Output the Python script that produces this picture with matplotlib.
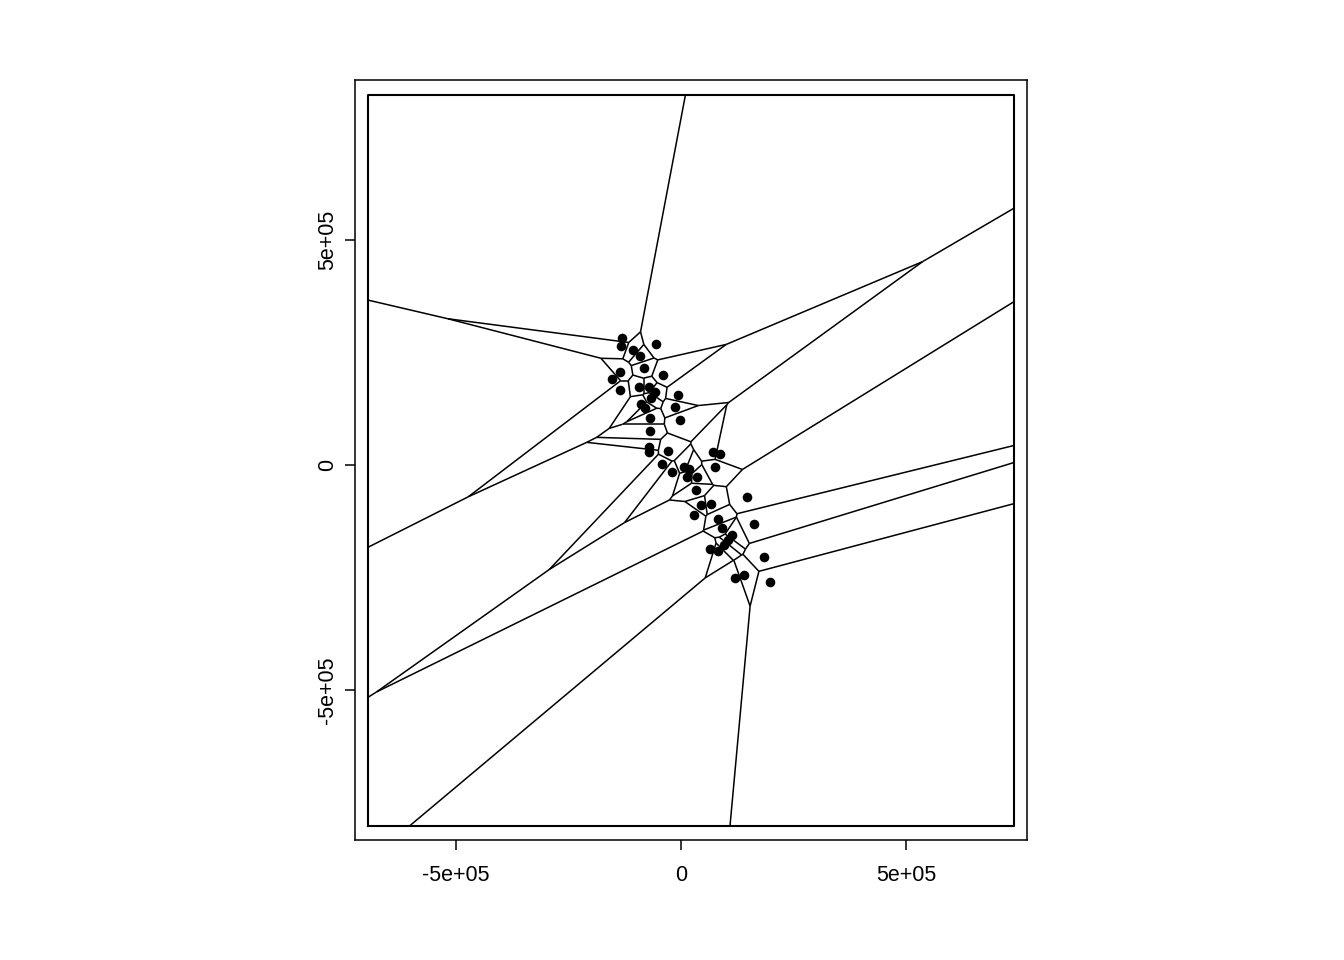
import numpy as np
import matplotlib
matplotlib.use("Agg")
import matplotlib.pyplot as plt
import matplotlib.tri as mtri

plt.rcParams["font.family"] = ["Liberation Sans", "DejaVu Sans"]

# point positions (pixel coords), converted to data units below
px = [621.7, 620.65, 633, 640, 656, 644, 663, 620, 612, 620, 638.5, 648.5, 655,
      641, 645, 651, 677.5, 675, 680, 649.5, 649.5, 649, 648.5, 668.3, 661.7,
      671.7, 684, 689, 687, 696.7, 696, 713, 720, 715, 746.7, 700.5, 711,
      693.5, 718, 721.7, 753.5, 731.7, 728, 724, 718, 710, 763.5, 735, 744.3,
      770]
py = [337.5, 345.5, 350, 356, 344, 368, 375, 372, 379, 389.5, 387, 387, 392,
      403.5, 407.5, 398, 395, 406.5, 420, 417.5, 431, 447, 451.5, 451, 464,
      471.7, 466.5, 468.5, 476.5, 477, 490, 452, 453.5, 467, 496.7, 505, 503.5,
      515, 519, 528.3, 524.3, 535, 540, 545, 551, 548.5, 557, 578.3, 575,
      581.5]

scale = 5e5 / 225.0
x = (np.array(px) - 681) * scale
y = (465 - np.array(py)) * scale

# bounding rectangle of the tessellation
rw = [(368 - 681) * scale, (1014 - 681) * scale,
      (465 - 826) * scale, (465 - 95) * scale]


def clip(p0, p1, box):
    # Liang-Barsky
    x0, y0 = p0
    dx, dy = p1[0] - x0, p1[1] - y0
    t0, t1 = 0.0, 1.0
    for p, q in ((-dx, x0 - box[0]), (dx, box[1] - x0),
                 (-dy, y0 - box[2]), (dy, box[3] - y0)):
        if p == 0:
            if q < 0:
                return None
        else:
            r = q / p
            if p < 0:
                t0 = max(t0, r)
            else:
                t1 = min(t1, r)
    if t0 > t1:
        return None
    return (x0 + t0 * dx, x0 + t1 * dx), (y0 + t0 * dy, y0 + t1 * dy)


tri = mtri.Triangulation(x, y)
T = tri.triangles
nb = tri.neighbors

# circumcentres
ax_, ay_ = x[T[:, 0]], y[T[:, 0]]
bx_, by_ = x[T[:, 1]], y[T[:, 1]]
cx_, cy_ = x[T[:, 2]], y[T[:, 2]]
d = 2 * (ax_ * (by_ - cy_) + bx_ * (cy_ - ay_) + cx_ * (ay_ - by_))
ux = ((ax_**2 + ay_**2) * (by_ - cy_) + (bx_**2 + by_**2) * (cy_ - ay_)
      + (cx_**2 + cy_**2) * (ay_ - by_)) / d
uy = ((ax_**2 + ay_**2) * (cx_ - bx_) + (bx_**2 + by_**2) * (ax_ - cx_)
      + (cx_**2 + cy_**2) * (bx_ - ax_)) / d

segs = []
for i in range(len(T)):
    for k in range(3):
        a, b = T[i, k], T[i, (k + 1) % 3]
        c = T[i, (k + 2) % 3]
        j = nb[i, k]
        if j >= 0:
            if j > i:
                segs.append(((ux[i], uy[i]), (ux[j], uy[j])))
        else:
            # hull edge: ray outwards from the circumcentre
            ex, ey = x[b] - x[a], y[b] - y[a]
            n = np.array([ey, -ex])
            mid = np.array([(x[a] + x[b]) / 2, (y[a] + y[b]) / 2])
            if np.dot(np.array([x[c], y[c]]) - mid, n) > 0:
                n = -n
            n = n / np.hypot(*n)
            segs.append(((ux[i], uy[i]), (ux[i] + n[0] * 1e8, uy[i] + n[1] * 1e8)))

fig = plt.figure(figsize=(13.44, 9.6), dpi=100)
ax = fig.add_axes([355 / 1344, 120 / 960, 672 / 1344, 760 / 960])

for p0, p1 in segs:
    r = clip(p0, p1, rw)
    if r is not None:
        ax.plot(r[0], r[1], color="black", lw=1.1, solid_capstyle="butt")

ax.plot([rw[0], rw[1], rw[1], rw[0], rw[0]], [rw[2], rw[2], rw[3], rw[3], rw[2]],
        color="black", lw=1.5)
ax.scatter(x, y, s=48, color="black", zorder=3, linewidths=0)

ax.set_xlim((355 - 681) * scale, (1027 - 681) * scale)
ax.set_ylim((465 - 840) * scale, (465 - 80) * scale)
ticks = [-5e5, 0, 5e5]
labels = ["-5e+05", "0", "5e+05"]
ax.set_xticks(ticks, labels)
ax.set_yticks(ticks, labels)
for lab in ax.get_yticklabels():
    lab.set_rotation(90)
    lab.set_va("center")
ax.tick_params(direction="out", length=7.2, width=1.1, labelsize=15.5)
ax.tick_params(axis="x", pad=11)
ax.tick_params(axis="y", pad=5)
for s in ax.spines.values():
    s.set_linewidth(1.1)

fig.savefig("out.png", dpi=100)
